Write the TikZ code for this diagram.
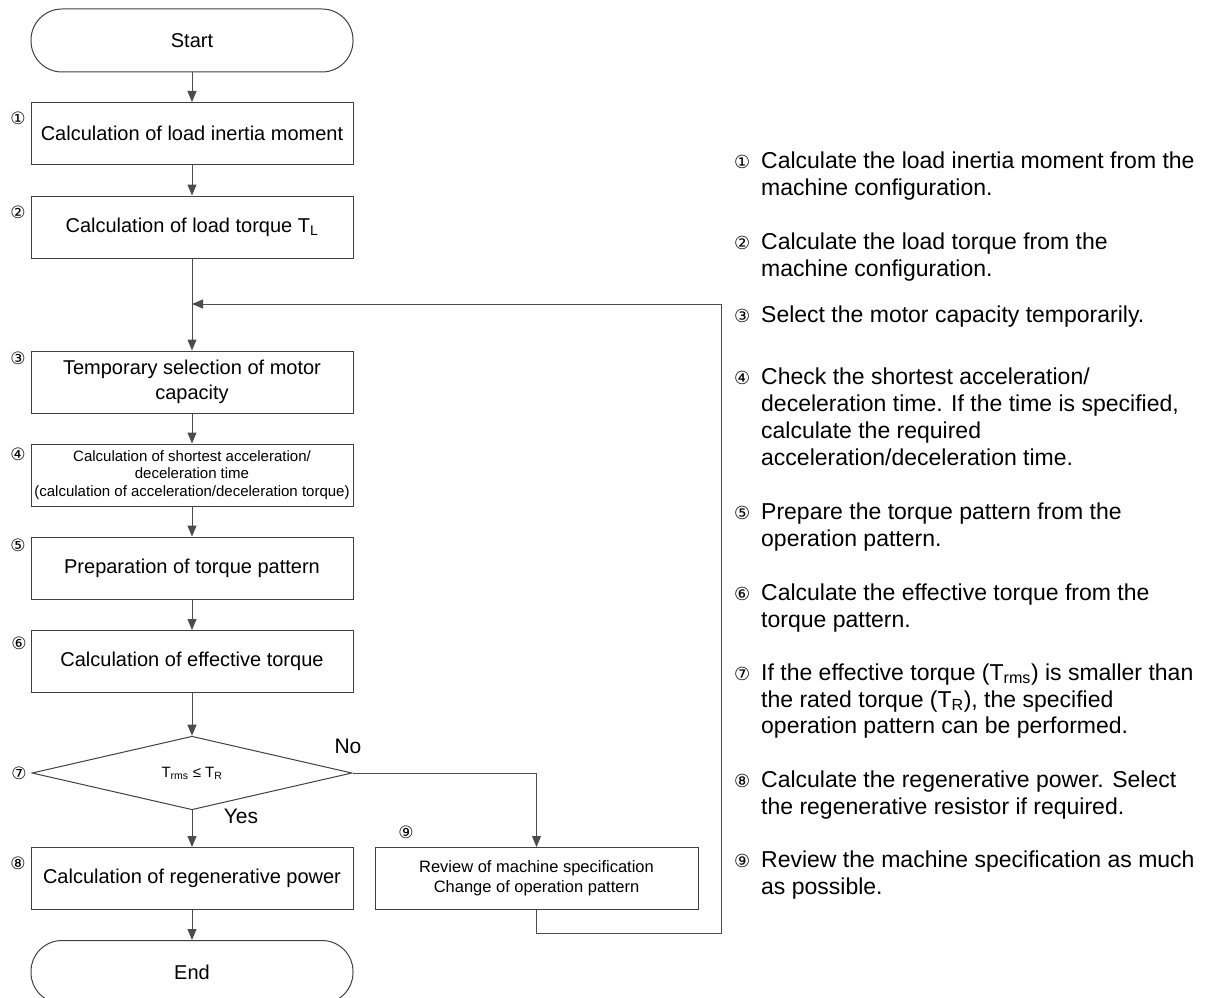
\documentclass[tikz,border=0pt]{standalone}
\usepackage{fontspec}
\setmainfont{Liberation Sans}
\newfontfamily\djv{DejaVu Sans}
\usetikzlibrary{shapes.geometric,arrows.meta}
\begin{document}
\begin{tikzpicture}[x=1pt,y=-1pt,
 box/.style={draw=black!75, line width=1pt, minimum width=322pt, minimum height=62pt, inner sep=0pt, align=center, font=\fontsize{20}{24}\selectfont},
 term/.style={box, rounded corners=31pt, minimum height=63pt},
 arr/.style={draw=black!70, line width=1pt, -{Triangle[width=9pt,length=11pt]}},
 ln/.style={draw=black!70, line width=1pt},
 num/.style={font=\djv\fontsize{17}{17}\selectfont, inner sep=0pt},
 rt/.style={font=\fontsize{23}{27}\selectfont, inner sep=0pt, anchor=base west},
 rnum/.style={font=\djv\fontsize{18}{18}\selectfont, inner sep=0pt, anchor=base west},
 lbl/.style={font=\fontsize{21}{21}\selectfont, inner sep=0pt}]
\useasboundingbox (0,0) rectangle (1224,998);
\clip (0,0) rectangle (1224,998);

% flow nodes
\node[term] (start) at (192,40.5) {Start};
\node[box] (b1) at (192,133.5) {Calculation of load inertia moment};
\node[box] (b2) at (192,227) {Calculation of load torque T\textsubscript{L}};
\node[box, font=\fontsize{20}{25}\selectfont] (b3) at (192,382) {Temporary selection of motor\\capacity};
\node[box, font=\fontsize{15}{17.5}\selectfont] (b4) at (192,475) {Calculation of shortest acceleration/\\deceleration time\\(calculation of acceleration/deceleration torque)};
\node[box] (b5) at (192,568) {Preparation of torque pattern};
\node[box] (b6) at (192,661.5) {Calculation of effective torque};
\node[diamond, draw=black!75, line width=1pt, minimum width=320pt, minimum height=61pt, inner sep=0pt, font=\fontsize{15}{15}\selectfont] (d) at (192,773) {T\textsubscript{rms} ≤ T\textsubscript{R}};
\node[box] (b8) at (192,878.5) {Calculation of regenerative power};
\node[term] (end) at (192,972) {End};
\node[box, minimum width=323pt, font=\fontsize{16.5}{20}\selectfont] (b9) at (536.5,878.5) {Review of machine specification\\Change of operation pattern};

% step numbers
\node[num] (n1) at (18,118) {①};
\node[num] (n2) at (18,212) {②};
\node[num] (n3) at (18,358) {③};
\node[num] (n4) at (18,454) {④};
\node[num] (n5) at (18,545) {⑤};
\node[num] (n6) at (19,643) {⑥};
\node[num] (n7) at (19,773) {⑦};
\node[num] (n8) at (18,863) {⑧};
\node[num] (n9) at (406,832) {⑨};

% labels
\node[lbl] (no) at (348,746) {No};
\node[lbl] (yes) at (241,816) {Yes};

% connectors
\coordinate (j) at (192,304);
\coordinate (lr) at (721,933);
\draw[arr] (start) -- (b1);
\draw[arr] (b1) -- (b2);
\draw[arr] (b2) -- (b3);
\draw[arr] (b3) -- (b4);
\draw[arr] (b4) -- (b5);
\draw[arr] (b5) -- (b6);
\draw[arr] (b6) -- (d);
\draw[arr] (d) -- (b8);
\draw[arr] (b8) -- (end);
\draw[arr] (d.east) -| (b9.north);
\draw[arr] (b9.south) |- (lr) |- (j);

% right-hand notes
\node[rnum] (r1) at (734,168) {①};
\node[rt] (t1a) at (761,168) {Calculate the load inertia moment from the};
\node[rt] (t1b) at (761,195) {machine configuration.};
\node[rnum] (r2) at (734,249) {②};
\node[rt] (t2a) at (761,249) {Calculate the load torque from the};
\node[rt] (t2b) at (761,276) {machine configuration.};
\node[rnum] (r3) at (734,322) {③};
\node[rt] (t3a) at (761,322) {Select the motor capacity temporarily.};
\node[rnum] (r4) at (734,384) {④};
\node[rt] (t4a) at (761,384) {Check the shortest acceleration/};
\node[rt] (t4b) at (761,411) {deceleration time. If the time is specified,};
\node[rt] (t4c) at (761,438) {calculate the required};
\node[rt] (t4d) at (761,465) {acceleration/deceleration time.};
\node[rnum] (r5) at (734,519) {⑤};
\node[rt] (t5a) at (761,519) {Prepare the torque pattern from the};
\node[rt] (t5b) at (761,546) {operation pattern.};
\node[rnum] (r6) at (734,600) {⑥};
\node[rt] (t6a) at (761,600) {Calculate the effective torque from the};
\node[rt] (t6b) at (761,627) {torque pattern.};
\node[rnum] (r7) at (734,680) {⑦};
\node[rt] (t7a) at (761,680) {If the effective torque (T\textsubscript{rms}) is smaller than};
\node[rt] (t7b) at (761,707) {the rated torque (T\textsubscript{R}), the specified};
\node[rt] (t7c) at (761,733) {operation pattern can be performed.};
\node[rnum] (r8) at (734,787) {⑧};
\node[rt] (t8a) at (761,787) {Calculate the regenerative power. Select};
\node[rt] (t8b) at (761,814) {the regenerative resistor if required.};
\node[rnum] (r9) at (734,867) {⑨};
\node[rt] (t9a) at (761,867) {Review the machine specification as much};
\node[rt] (t9b) at (761,894) {as possible.};
\end{tikzpicture}
\end{document}
